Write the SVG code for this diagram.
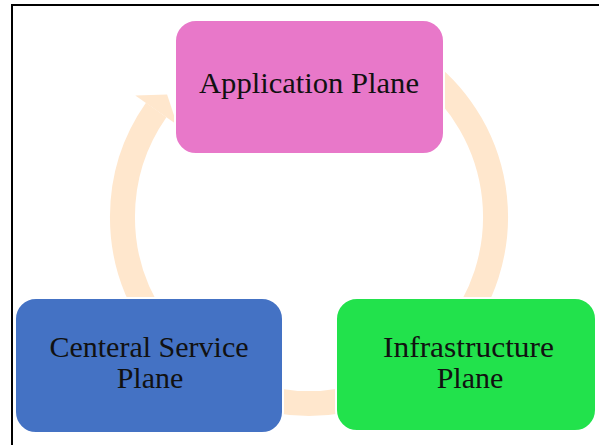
<svg xmlns="http://www.w3.org/2000/svg" width="599" height="445" viewBox="0 0 599 445">
  <style>
    .arc { fill: none; stroke: #FFE7CD; stroke-width: 25; stroke-linecap: butt; }
    .head { fill: #FFE7CD; }
    .box { stroke: #FFFFFF; stroke-width: 2; }
    .label { font-family: "Liberation Serif", "Times New Roman", serif; font-size: 30px; fill: #111111; text-anchor: middle; }
  </style>
  <rect x="0" y="0" width="599" height="445" fill="#FFFFFF"/>
  <!-- frame: top and left rule -->
  <path d="M12 445 V5 H599" fill="none" stroke="#000000" stroke-width="2"/>

  <!-- cycle arcs, centre (309,217), r 186.5 -->
  <g id="connectors">
    <path class="arc" d="M156.2 324 A186.5 186.5 0 0 1 156.2 110"/>
    <polygon class="head" points="135.3,95.4 167.1,94.4 177.1,124.7"/>
    <path class="arc" d="M423.8 70 A186.5 186.5 0 0 1 451.9 336.9"/>
    <path class="arc" d="M341.4 400.7 A186.5 186.5 0 0 1 276.6 400.7"/>
  </g>

  <g id="application-plane">
    <rect class="box" x="175" y="20" width="269" height="134" rx="21" fill="#E878C9"/>
    <text class="label" x="309" y="93" textLength="220" lengthAdjust="spacingAndGlyphs">Application Plane</text>
  </g>

  <g id="central-service-plane">
    <rect class="box" x="15" y="298" width="268" height="135" rx="21" fill="#4472C4"/>
    <text class="label" x="149" y="357">Centeral Service</text>
    <text class="label" x="150" y="388">Plane</text>
  </g>

  <g id="infrastructure-plane">
    <rect class="box" x="336" y="298" width="260" height="133" rx="21" fill="#22E24C"/>
    <text class="label" x="468.5" y="357" textLength="171" lengthAdjust="spacingAndGlyphs">Infrastructure</text>
    <text class="label" x="470" y="388">Plane</text>
  </g>
</svg>
